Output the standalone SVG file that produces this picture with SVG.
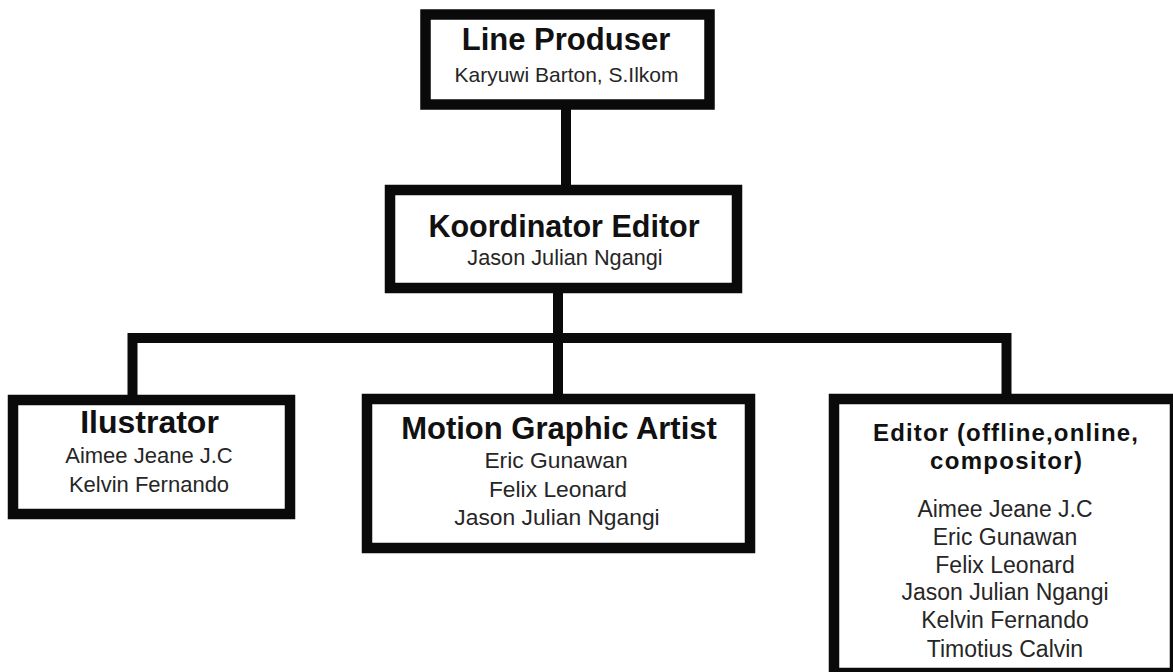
<svg xmlns="http://www.w3.org/2000/svg" width="1173" height="672" viewBox="0 0 1173 672">
<style>
.box{fill:#fff;stroke:#0a0a0a;stroke-width:10.5}
.ln{stroke:#0a0a0a;stroke-width:10;fill:none}
text{font-family:"Liberation Sans",Arial,sans-serif;text-anchor:middle}
.t{font-weight:700;fill:#111}
.n{font-weight:400;fill:#262626}
</style>
<rect width="1173" height="672" fill="#fff"/>
<g id="connectors">
<line class="ln" x1="566" y1="105" x2="566" y2="190"/>
<line class="ln" x1="558" y1="288" x2="558" y2="399"/>
<path class="ln" d="M132.5 399 V338 H1006.5 V399"/>
</g>
<g id="line-produser">
<rect class="box" x="425.5" y="14.5" width="284" height="90"/>
<text class="t" x="566" y="50" font-size="31">Line Produser</text>
<text class="n" x="566.5" y="82" font-size="21">Karyuwi Barton, S.Ilkom</text>
</g>
<g id="koordinator-editor">
<rect class="box" x="390" y="190" width="347" height="98"/>
<text class="t" x="564" y="237" font-size="30.5">Koordinator Editor</text>
<text class="n" x="565" y="265" font-size="21.7">Jason Julian Ngangi</text>
</g>
<g id="ilustrator">
<rect class="box" x="13" y="400" width="277" height="114"/>
<text class="t" x="149.5" y="433" font-size="32">Ilustrator</text>
<text class="n" x="149" y="463" font-size="22">Aimee Jeane J.C</text>
<text class="n" x="149" y="492" font-size="22">Kelvin Fernando</text>
</g>
<g id="motion-graphic-artist">
<rect class="box" x="367" y="399" width="383" height="149"/>
<text class="t" x="559" y="439" font-size="31">Motion Graphic Artist</text>
<text class="n" x="556" y="468" font-size="22.8">Eric Gunawan</text>
<text class="n" x="558" y="497" font-size="22.8">Felix Leonard</text>
<text class="n" x="557" y="525" font-size="22.8">Jason Julian Ngangi</text>
</g>
<g id="editor">
<rect class="box" x="834" y="399" width="341" height="274"/>
<text class="t" x="1005.5" y="441" font-size="24" textLength="265" lengthAdjust="spacing">Editor (offline,online,</text>
<text class="t" x="1006" y="468.5" font-size="24" textLength="152" lengthAdjust="spacing">compositor)</text>
<text class="n" x="1005" y="517" font-size="23">Aimee Jeane J.C</text>
<text class="n" x="1005" y="545" font-size="23">Eric Gunawan</text>
<text class="n" x="1005" y="573" font-size="23">Felix Leonard</text>
<text class="n" x="1005" y="600" font-size="23">Jason Julian Ngangi</text>
<text class="n" x="1005" y="628" font-size="23">Kelvin Fernando</text>
<text class="n" x="1005" y="657" font-size="23">Timotius Calvin</text>
</g>
</svg>
